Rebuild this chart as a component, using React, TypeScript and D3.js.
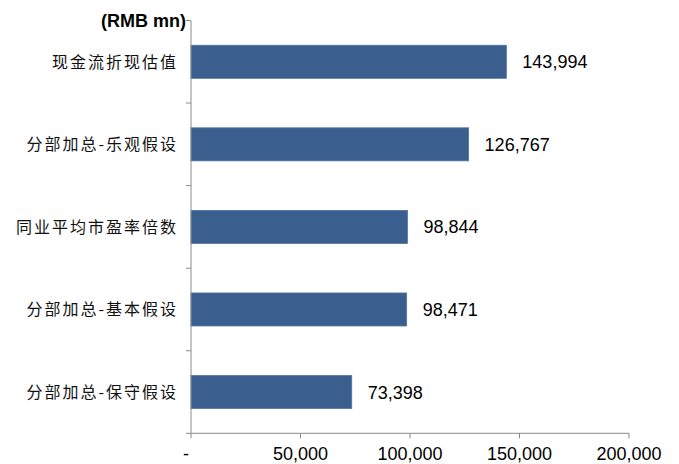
import React from "react";
import * as d3 from "d3";

const categories = [
  "现金流折现估值",
  "分部加总-乐观假设",
  "同业平均市盈率倍数",
  "分部加总-基本假设",
  "分部加总-保守假设",
];
const values = [143994, 126767, 98844, 98471, 73398];
const xTicks = [0, 50000, 100000, 150000, 200000];
const xTickLabels = ["-", "50,000", "100,000", "150,000", "200,000"];
const unitLabel = "(RMB mn)";

const W = 679;
const H = 464;
const left = 191;
const right = 629;
const top = 20.5;
const bottom = 433.3;

export default function App() {
  const x = d3.scaleLinear().domain([0, 200000]).range([left, right]);
  const y = d3
    .scaleBand<string>()
    .domain(categories)
    .range([top, bottom])
    .paddingInner(0.6)
    .paddingOuter(0.3);
  const yb = d3.scaleBand<string>().domain(categories).range([top, bottom]);
  const fmt = d3.format(",");
  const axisColor = "#8a8a8a";
  const boundaries = d3.range(categories.length + 1).map((i) => top + i * yb.step());

  return (
    <svg
      width={W}
      height={H}
      style={{ position: "absolute", left: 0, top: 0, background: "#fff" }}
    >
      <text
        x={186}
        y={27}
        textAnchor="end"
        fontFamily="Liberation Sans, Arial, sans-serif"
        fontWeight="bold"
        fontSize={18}
        fill="#000"
      >
        {unitLabel}
      </text>
      {categories.map((c, i) => (
        <g key={c}>
          <rect
            x={x(0)}
            y={y(c)!}
            width={x(values[i]) - x(0)}
            height={y.bandwidth()}
            fill="#3A5F8F"
            stroke="#4f74a3"
            strokeWidth={0.8}
          />
          <text
            x={x(values[i]) + 16}
            y={y(c)! + y.bandwidth() / 2}
            dy="0.36em"
            fontFamily="Liberation Sans, Arial, sans-serif"
            fontSize={18}
            fill="#000"
          >
            {fmt(values[i])}
          </text>
          <text
            x={178}
            y={yb(c)! + yb.bandwidth() / 2}
            dy="0.36em"
            textAnchor="end"
            fontFamily="Noto Sans CJK SC, sans-serif"
            fontSize={16}
            letterSpacing={2}
            fill="#111"
          >
            {c}
          </text>
        </g>
      ))}
      <line x1={left} x2={left} y1={top} y2={bottom} stroke={axisColor} />
      {boundaries.map((b, i) => (
        <line key={i} x1={left - 5} x2={left} y1={b} y2={b} stroke={axisColor} />
      ))}
      <line x1={left} x2={right} y1={bottom} y2={bottom} stroke={axisColor} />
      {xTicks.map((t, i) => (
        <g key={t}>
          <line x1={x(t)} x2={x(t)} y1={bottom} y2={bottom + 5} stroke={axisColor} />
          <text
            x={x(t) - (t === 0 ? 5 : 0)}
            y={459.5}
            textAnchor="middle"
            fontFamily="Liberation Sans, Arial, sans-serif"
            fontSize={18}
            fill="#000"
          >
            {xTickLabels[i]}
          </text>
        </g>
      ))}
    </svg>
  );
}
